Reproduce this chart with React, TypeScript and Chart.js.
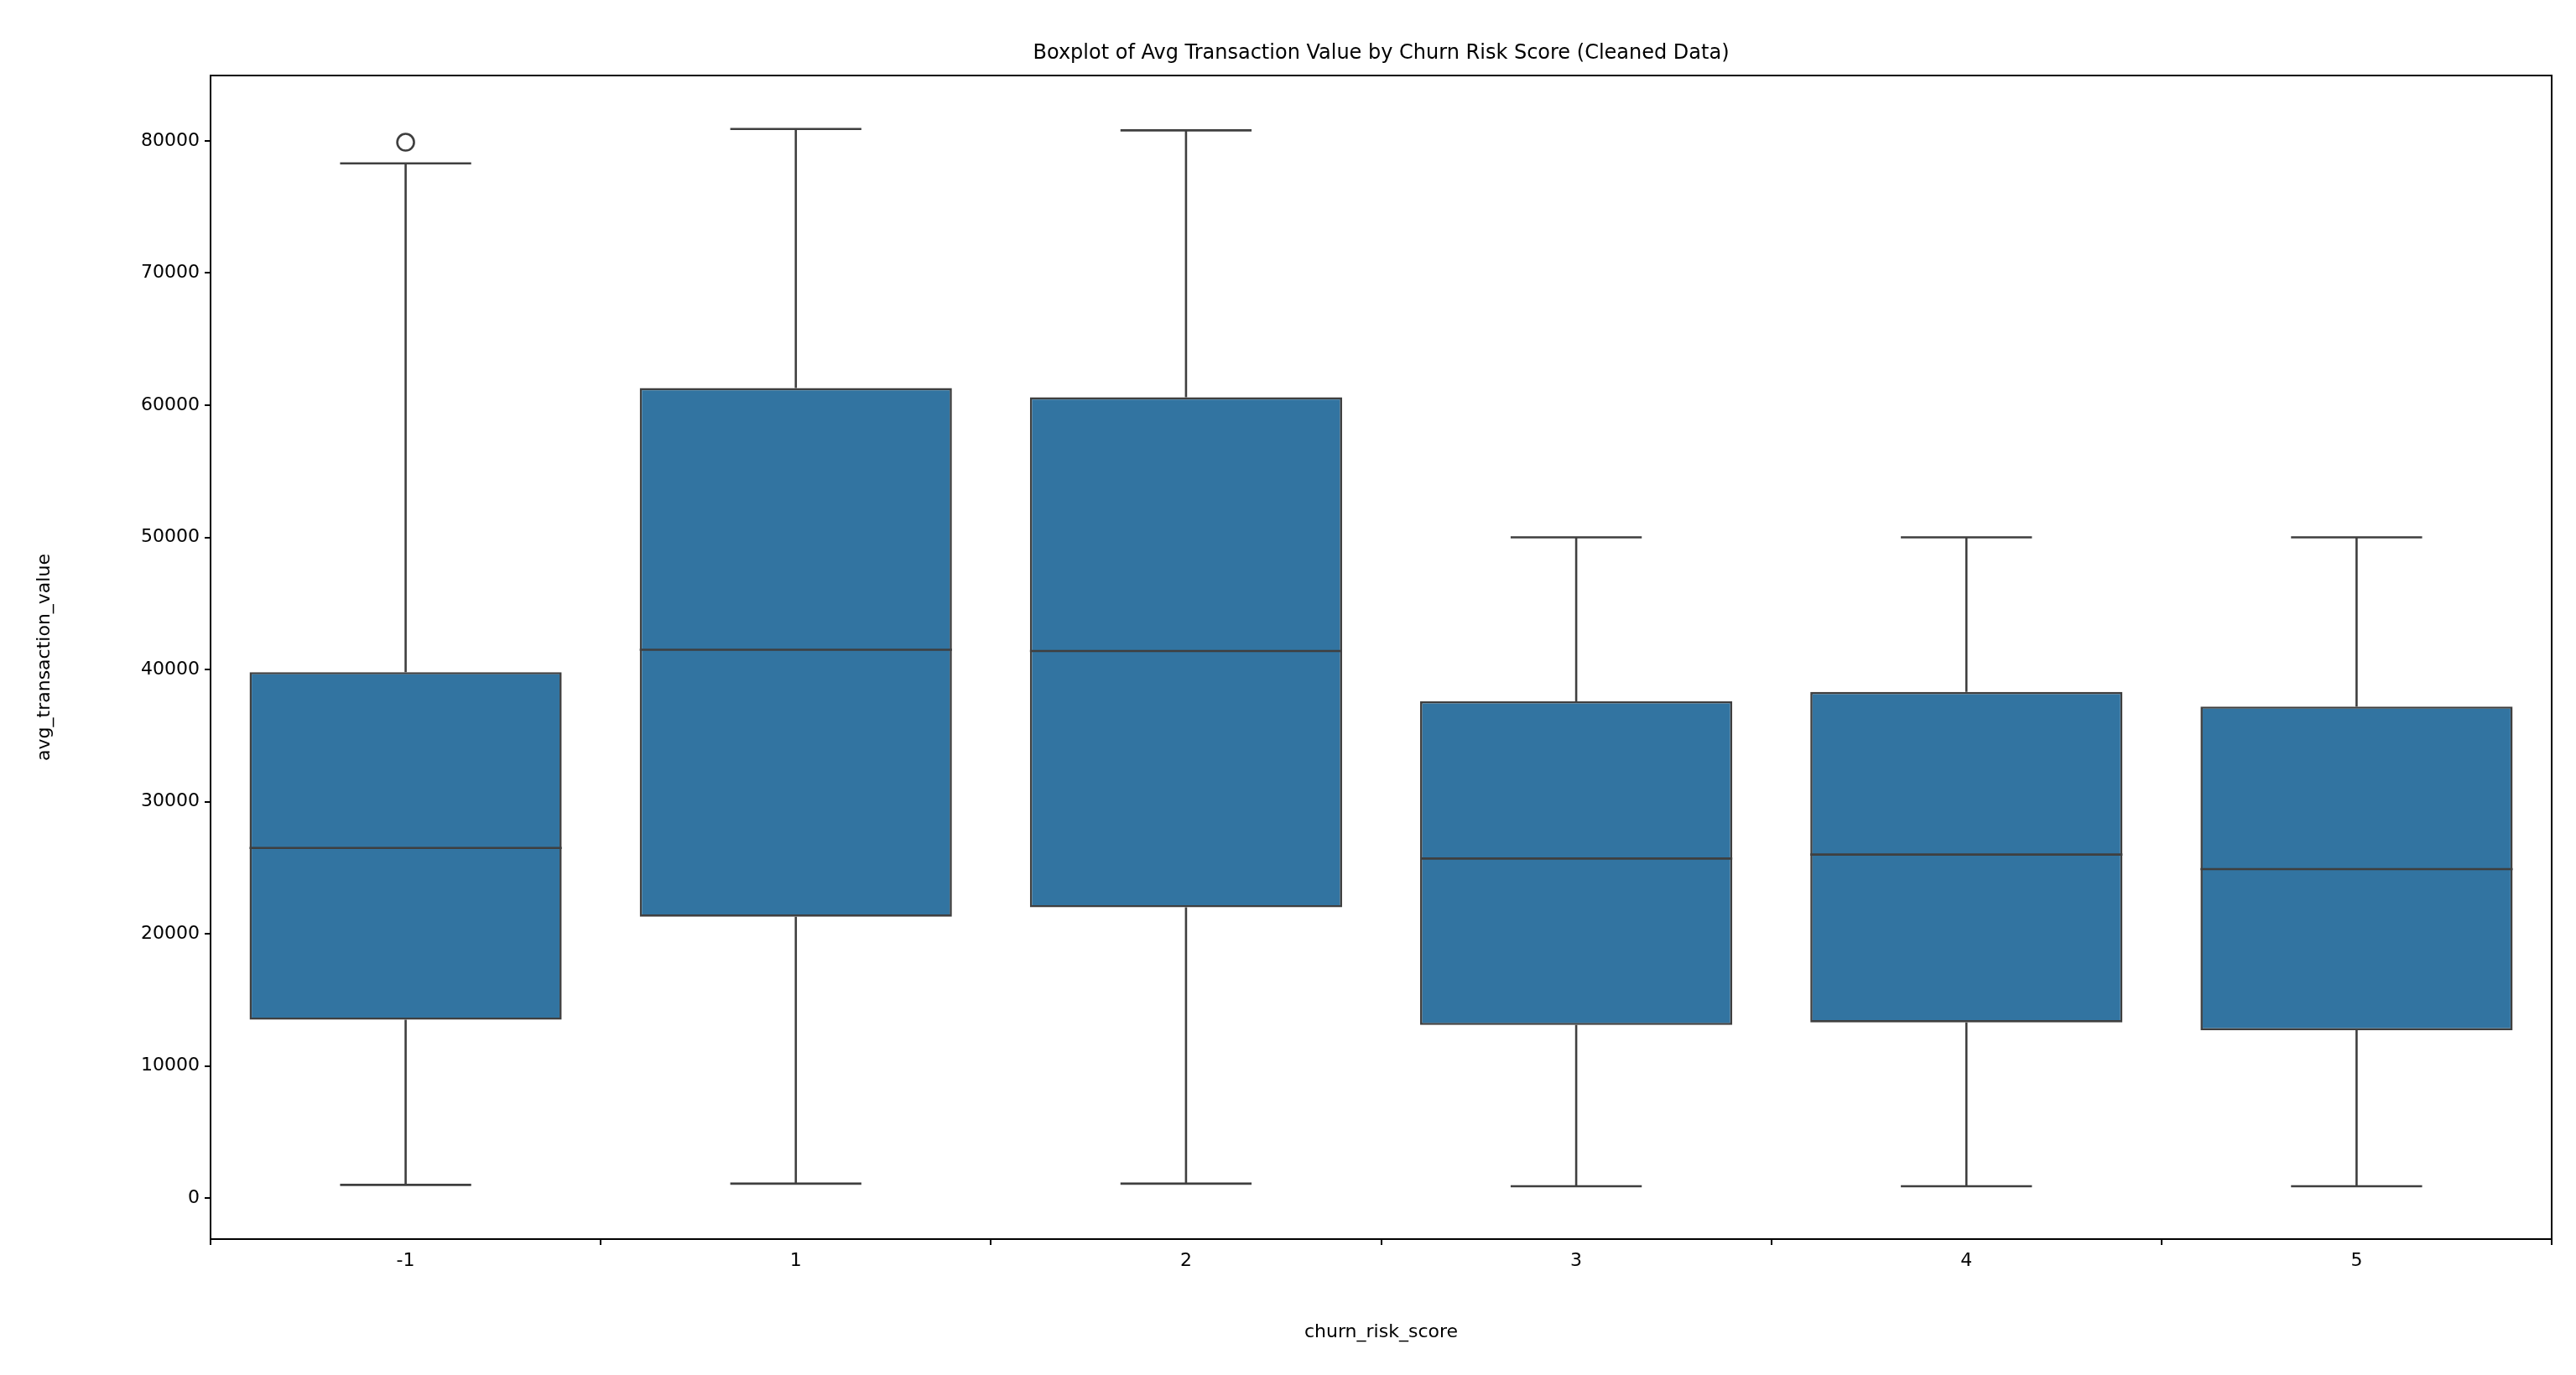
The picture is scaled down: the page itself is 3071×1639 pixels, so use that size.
import React, { useEffect, useRef } from "react";
import { Chart, registerables } from "chart.js";
Chart.register(...registerables);

const categories = ["-1", "1", "2", "3", "4", "5"];
const whiskerLow = [1000, 1100, 1100, 900, 900, 900];
const q1 = [13500, 21300, 22000, 13100, 13300, 12700];
const median = [26500, 41500, 41400, 25700, 26000, 24900];
const q3 = [39800, 61300, 60600, 37600, 38300, 37200];
const whiskerHigh = [78300, 80900, 80800, 50000, 50000, 50000];
const outliers: number[][] = [[79900], [], [], [], [], []];

const EDGE = "#3f3f3f";
const FILL = "#3274a1";
const FONT = "'DejaVu Sans', sans-serif";

const boxPlugin = {
  id: "boxParts",
  afterDatasetsDraw(chart: any) {
    const ctx = chart.ctx;
    const x = chart.scales.x;
    const y = chart.scales.y;
    const meta = chart.getDatasetMeta(0);
    ctx.save();
    ctx.strokeStyle = EDGE;
    ctx.lineWidth = 2.6;
    categories.forEach((_, i) => {
      const bar = meta.data[i];
      const cx = x.getPixelForValue(i);
      const half = bar.width / 2;
      const cap = half * 0.42;
      const yl = y.getPixelForValue(whiskerLow[i]);
      const yq1 = y.getPixelForValue(q1[i]);
      const yq3 = y.getPixelForValue(q3[i]);
      const yh = y.getPixelForValue(whiskerHigh[i]);
      const ym = y.getPixelForValue(median[i]);
      ctx.beginPath();
      ctx.moveTo(cx, yq1); ctx.lineTo(cx, yl);
      ctx.moveTo(cx - cap, yl); ctx.lineTo(cx + cap, yl);
      ctx.moveTo(cx, yq3); ctx.lineTo(cx, yh);
      ctx.moveTo(cx - cap, yh); ctx.lineTo(cx + cap, yh);
      ctx.moveTo(cx - half, ym); ctx.lineTo(cx + half, ym);
      ctx.stroke();
      outliers[i].forEach((v) => {
        ctx.beginPath();
        ctx.arc(cx, y.getPixelForValue(v), 10, 0, Math.PI * 2);
        ctx.stroke();
      });
    });
    const a = chart.chartArea;
    ctx.strokeStyle = "#000";
    ctx.lineWidth = 2;
    ctx.strokeRect(a.left, a.top, a.right - a.left, a.bottom - a.top);
    ctx.fillStyle = "#000";
    ctx.font = `24px ${FONT}`;
    ctx.textAlign = "center";
    ctx.textBaseline = "bottom";
    ctx.fillText("Boxplot of Avg Transaction Value by Churn Risk Score (Cleaned Data)", (a.left + a.right) / 2, a.top - 14);
    ctx.restore();
  },
};

export default function App() {
  const ref = useRef<HTMLCanvasElement>(null);
  useEffect(() => {
    const chart = new Chart(ref.current!, {
      type: "bar",
      data: {
        labels: categories,
        datasets: [
          {
            data: categories.map((_, i) => [q1[i], q3[i]]) as any,
            backgroundColor: FILL,
            borderColor: EDGE,
            borderWidth: 2.6,
            borderSkipped: false,
            barPercentage: 0.8,
            categoryPercentage: 1,
          },
        ],
      },
      options: {
        animation: false,
        responsive: false,
        devicePixelRatio: 1,
        layout: { padding: { left: 40, top: 90, right: 29, bottom: 38 } },
        plugins: { legend: { display: false }, tooltip: { enabled: false }, title: { display: false } },
        scales: {
          x: {
            offset: true,
            grid: { drawOnChartArea: false, drawTicks: true, tickLength: 7, color: "#000", lineWidth: 2 },
            border: { color: "#000", width: 2 },
            ticks: { color: "#000", font: { family: FONT, size: 22 }, padding: 6 },
            title: { display: true, text: "churn_risk_score", color: "#000", font: { family: FONT, size: 22 }, padding: 0 },
            afterFit: (s: any) => { s.height = 124; },
          },
          y: {
            min: -3100,
            max: 84950,
            grid: { drawOnChartArea: false, drawTicks: true, tickLength: 7, color: "#000", lineWidth: 2 },
            border: { color: "#000", width: 2 },
            ticks: {
              stepSize: 10000,
              color: "#000",
              font: { family: FONT, size: 22 },
              padding: 6,
              callback: (v: any) => (v % 10000 === 0 && v >= 0 ? String(v) : ""),
            },
            afterBuildTicks: (s: any) => {
              s.ticks = [0, 10000, 20000, 30000, 40000, 50000, 60000, 70000, 80000].map((v) => ({ value: v }));
            },
            title: { display: true, text: "avg_transaction_value", color: "#000", font: { family: FONT, size: 22 }, padding: 0 },
            afterFit: (s: any) => { s.width = 211; },
          },
        },
      },
      plugins: [boxPlugin],
    });
    return () => chart.destroy();
  }, []);
  return (
    <canvas
      ref={ref}
      width={3071}
      height={1639}
      style={{ position: "fixed", left: 0, top: 0, width: 3071, height: 1639, background: "#fff" }}
    />
  );
}
